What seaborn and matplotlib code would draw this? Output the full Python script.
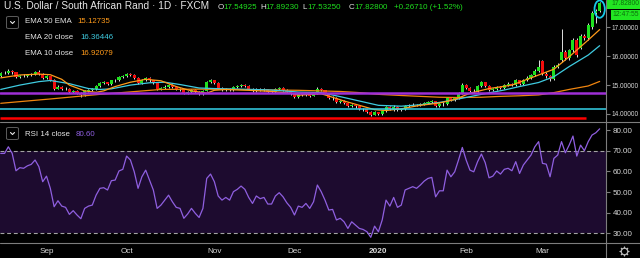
import numpy as np
import pandas as pd
import matplotlib
matplotlib.use("Agg")
import matplotlib.pyplot as plt
import seaborn as sns
from matplotlib.patches import Rectangle, Ellipse, FancyBboxPatch
from matplotlib.lines import Line2D
from matplotlib.ticker import FormatStrFormatter

# ---------------- data ----------------
start_date = "2019-08-15"
end_date = "2020-03-23"

opens = [15.30,15.42,15.42,15.50,15.44,15.28,15.32,15.31,15.35,15.38,
 15.45,15.38,15.25,15.30,15.18,14.88,14.95,14.88,14.86,14.75,
 14.80,14.72,14.66,14.80,14.84,14.86,14.98,15.08,15.09,15.05,
 15.16,15.17,15.28,15.30,15.38,15.34,15.24,15.08,15.18,15.24,
 15.16,15.08,14.86,14.90,14.95,15.00,14.93,14.86,14.85,14.72,
 14.77,14.83,14.76,14.70,14.80,15.10,15.16,15.08,14.90,14.84,
 14.87,14.84,14.94,14.97,15.01,14.96,14.86,14.78,14.86,14.83,
 14.85,14.77,14.77,14.86,14.90,14.84,14.76,14.70,14.58,14.68,
 14.66,14.71,14.64,14.73,14.86,14.82,14.72,14.55,14.56,14.42,
 14.45,14.38,14.28,14.32,14.26,14.18,14.16,14.08,13.98,14.06,
 14.00,14.10,14.24,14.18,14.24,14.14,14.16,14.28,14.30,14.32,
 14.30,14.34,14.39,14.42,14.44,14.28,14.34,14.34,14.55,14.48,
 14.55,14.72,15.02,14.90,14.80,14.79,14.97,15.10,14.98,14.83,
 14.86,14.93,14.90,15.00,15.04,15.01,15.16,15.04,15.18,15.26,
 15.34,15.50,15.84,15.39,15.30,15.22,15.62,15.87,16.16,15.93,
 16.21,16.56,16.30,16.70,16.62,17.02,17.48,17.549]

closes = [15.42,15.42,15.50,15.44,15.28,15.32,15.31,15.35,15.38,15.45,
 15.38,15.25,15.30,15.18,14.88,14.95,14.88,14.86,14.75,14.80,
 14.72,14.66,14.80,14.84,14.86,14.98,15.08,15.09,15.05,15.16,
 15.17,15.28,15.30,15.38,15.34,15.24,15.08,15.18,15.24,15.16,
 15.08,14.86,14.90,14.95,15.00,14.93,14.86,14.85,14.72,14.77,
 14.83,14.76,14.70,14.80,15.10,15.16,15.08,14.90,14.84,14.87,
 14.84,14.94,14.97,15.01,14.96,14.86,14.78,14.86,14.83,14.85,
 14.77,14.77,14.86,14.90,14.84,14.76,14.70,14.58,14.68,14.66,
 14.71,14.64,14.73,14.86,14.82,14.72,14.55,14.56,14.42,14.45,
 14.38,14.28,14.32,14.26,14.18,14.16,14.08,13.98,14.06,14.00,
 14.10,14.24,14.18,14.24,14.14,14.16,14.28,14.30,14.32,14.30,
 14.34,14.39,14.42,14.44,14.28,14.34,14.34,14.55,14.48,14.55,
 14.72,15.02,14.90,14.80,14.79,14.97,15.10,14.98,14.83,14.86,
 14.93,14.90,15.00,15.04,15.01,15.16,15.04,15.18,15.26,15.34,
 15.50,15.64,15.39,15.30,15.22,15.62,15.70,16.16,15.93,16.21,
 16.56,16.04,16.70,16.62,17.08,17.48,17.56,17.828]

highs = [15.47,15.48,15.55,15.53,15.46,15.36,15.37,15.40,15.43,15.50,
 15.52,15.41,15.34,15.33,15.20,14.99,14.97,14.92,14.89,14.84,
 14.83,14.75,14.83,14.88,14.91,15.02,15.12,15.14,15.12,15.19,
 15.22,15.32,15.35,15.42,15.41,15.37,15.27,15.22,15.29,15.27,
 15.19,15.10,14.95,15.00,15.04,15.03,14.96,14.91,14.88,14.81,
 14.87,14.86,14.79,14.84,15.14,15.22,15.19,15.10,14.93,14.91,
 14.90,14.97,15.01,15.05,15.04,14.99,14.89,14.90,14.89,14.89,
 14.87,14.82,14.90,14.94,14.92,14.86,14.79,14.72,14.72,14.71,
 14.75,14.74,14.77,14.93,14.90,14.84,14.74,14.61,14.58,14.50,
 14.48,14.40,14.36,14.35,14.28,14.22,14.19,14.10,14.09,14.08,
 14.14,14.28,14.27,14.32,14.26,14.21,14.32,14.36,14.37,14.36,
 14.39,14.43,14.46,14.49,14.46,14.38,14.40,14.59,14.58,14.60,
 14.76,15.06,15.05,14.93,14.86,15.01,15.14,15.12,15.01,14.90,
 14.97,14.96,15.04,15.09,15.08,15.20,15.18,15.22,15.30,15.39,
 15.55,15.88,15.88,15.44,15.36,15.68,15.76,16.94,16.20,16.26,
 16.62,16.62,16.76,16.78,17.14,17.55,17.64,17.892]

lows = [15.27,15.37,15.40,15.40,15.24,15.25,15.27,15.28,15.32,15.35,
 15.35,15.22,15.21,15.15,14.84,14.85,14.84,14.82,14.72,14.71,
 14.68,14.58,14.64,14.77,14.80,14.84,14.95,15.03,15.01,15.02,
 15.12,15.14,15.24,15.27,15.30,15.20,15.05,15.05,15.15,15.12,
 15.04,14.82,14.82,14.86,14.91,14.89,14.82,14.80,14.68,14.69,
 14.74,14.72,14.66,14.67,14.78,15.06,15.04,14.86,14.80,14.81,
 14.80,14.81,14.90,14.93,14.92,14.83,14.75,14.75,14.79,14.79,
 14.73,14.72,14.74,14.83,14.80,14.72,14.66,14.54,14.55,14.62,
 14.62,14.60,14.61,14.70,14.78,14.68,14.51,14.50,14.38,14.38,
 14.34,14.24,14.24,14.22,14.14,14.12,14.04,13.94,13.95,13.96,
 13.97,14.07,14.14,14.12,14.10,14.10,14.13,14.25,14.26,14.26,
 14.27,14.31,14.35,14.38,14.24,14.25,14.29,14.31,14.44,14.45,
 14.52,14.70,14.86,14.76,14.74,14.76,14.94,14.94,14.79,14.79,
 14.82,14.86,14.87,14.97,14.97,14.98,15.00,15.01,15.14,15.22,
 15.30,15.46,15.34,15.24,15.15,15.18,15.58,15.80,15.86,15.86,
 16.16,15.98,16.24,16.55,16.56,16.95,17.15,17.5325]

rsi = [68.7,68.7,71.9,68.7,60.3,61.8,61.5,62.7,63.4,65.5,
 62.3,55.0,57.7,51.8,42.9,45.8,43.2,42.6,39.2,41.0,
 38.9,37.1,42.1,43.2,43.7,48.5,51.8,52.1,51.0,55.5,
 55.8,60.2,61.0,67.4,65.5,59.8,51.8,57.4,60.6,55.8,
 51.0,42.1,43.7,46.1,48.5,45.3,42.6,42.1,37.3,39.4,
 42.1,39.7,37.7,42.1,56.6,58.7,55.0,48.1,46.1,47.4,
 46.1,50.2,51.3,52.9,51.3,47.4,44.5,48.1,46.8,47.4,
 44.2,44.2,48.1,49.7,47.7,44.8,42.6,38.9,43.2,42.6,
 44.5,42.1,45.3,53.4,50.2,46.1,41.3,41.6,36.5,37.3,
 35.6,32.4,35.6,34.0,32.4,31.9,30.8,28.1,33.5,30.8,
 36.5,46.1,43.2,47.4,42.6,43.7,51.0,51.8,52.6,51.8,
 53.4,55.3,56.6,57.1,47.7,50.6,50.6,60.6,57.4,59.8,
 65.5,71.6,65.5,60.6,59.8,64.7,68.4,64.2,56.9,57.7,
 60.2,58.7,61.0,61.5,60.3,64.7,59.0,63.1,65.5,67.9,
 71.9,74.4,63.9,63.5,57.4,66.3,67.9,74.4,69.0,72.7,
 77.1,67.4,72.7,70.0,74.4,77.6,78.7,80.6]

ema10_bar = [0,5,10,13,16,18,22,25,27,30,34,38,42,46,50,54,56,59,65,71,
             76,78,84,86,90,94,98,101,105,110,115,119,123,128,134,137,141,145,149,154,157]
ema10_val = [15.25,15.35,15.38,15.36,15.20,15.00,14.80,14.75,14.80,14.95,
             15.10,15.20,15.15,14.95,14.80,14.72,14.82,14.85,14.82,14.78,
             14.72,14.65,14.70,14.62,14.45,14.30,14.15,14.12,14.18,14.30,
             14.38,14.50,14.72,14.88,15.00,15.15,15.35,15.55,15.98,16.56,16.921]
ema20_bar = [0,5,10,13,18,23,26,29,34,39,43,47,52,56,63,71,78,84,89,94,
             99,105,110,115,120,126,132,136,141,145,149,154,157]
ema20_val = [14.85,15.00,15.12,15.16,15.05,14.88,14.85,14.87,15.00,15.08,
             15.10,15.02,14.90,14.88,14.86,14.83,14.76,14.74,14.60,14.45,
             14.30,14.27,14.32,14.40,14.52,14.68,14.83,14.95,15.09,15.29,
             15.64,16.04,16.364]
ema50_bar = [0,13,26,42,52,65,78,89,94,99,105,110,115,120,126,131,136,141,145,149,154,157]
ema50_val = [14.37,14.52,14.68,14.85,14.86,14.84,14.82,14.78,14.74,14.68,
             14.64,14.61,14.58,14.57,14.58,14.61,14.63,14.66,14.74,14.85,14.97,15.127]

level_purple = 14.74
level_cyan = 14.17
level_red = 13.87
red_end_bar = 153.5

price_ticks = [14, 15, 16, 17]
rsi_ticks = [30, 40, 50, 60, 70, 80]
rsi_bands = [30, 70]

title = "U.S. Dollar / South African Rand \u00b7 1D \u00b7 FXCM"
ohlc_letters = ["O", "H", "L", "C"]
ohlc_values = ["17.54925", "17.89230", "17.53250", "17.82800"]
change_text = "+0.26710 (+1.52%)"
legend_names = ["EMA 50 EMA", "EMA 20 close", "EMA 10 close"]
legend_values = ["15.12735", "16.36446", "16.92079"]
rsi_name = "RSI 14 close"
rsi_value = "80.60"
last_price_label = "17.82800"
countdown_label = "12:47:55"

# ---------------- style ----------------
sns.set_style("dark", {"axes.facecolor": "black", "figure.facecolor": "black"})
plt.rcParams["font.family"] = ["Liberation Sans", "DejaVu Sans"]

W, H = 640, 258
GREEN = "#1fe01f"
RED = "#f20d0d"
WICK = "#e0e0e0"
ORANGE = "#ff9a1a"
CYAN = "#3fcbe0"
PURPLE_LINE = "#9e2fd6"
RSI_COL = "#8f5fe0"
GRID = "#7d7d7d"
TXT = "#e6e6e6"
AX_TXT = "#d8d8d8"

fig = plt.figure(figsize=(6.4, 2.58), dpi=100, facecolor="black")

def fx(px):
    return px / W

def fy(py):
    return 1 - py / H

ax1 = fig.add_axes([0, fy(122), 606 / W, 122 / H])
ax2 = fig.add_axes([0, fy(243), 606 / W, 121 / H])

dates = pd.bdate_range(start_date, end_date)
n = len(closes)
idx = np.arange(n)
xlim = (-0.19, 158.66)

for ax in (ax1, ax2):
    ax.set_facecolor("black")
    for s in ax.spines.values():
        s.set_visible(False)
    ax.set_xlim(*xlim)
    ax.grid(False)

# ---- candles ----
o = np.array(opens); c = np.array(closes)
h = np.array(highs); l = np.array(lows)
up = c >= o
cols = np.where(up, GREEN, RED)
heights = np.where(np.abs(c - o) < 0.015, 0.015, np.abs(c - o))
bottoms = np.minimum(o, c)
ax1.vlines(idx, l, h, colors=WICK, lw=0.7, zorder=2)
ax1.bar(idx, heights, bottom=bottoms, width=0.8, color=cols, linewidth=0, zorder=3)

# ---- EMAs ----
df10 = pd.DataFrame({"bar": ema10_bar, "v": ema10_val})
df20 = pd.DataFrame({"bar": ema20_bar, "v": ema20_val})
df50 = pd.DataFrame({"bar": ema50_bar, "v": ema50_val})
sns.lineplot(data=df50, x="bar", y="v", ax=ax1, color="#f0850f", lw=0.9, zorder=4, legend=False)
sns.lineplot(data=df20, x="bar", y="v", ax=ax1, color=CYAN, lw=0.9, zorder=4, legend=False)
sns.lineplot(data=df10, x="bar", y="v", ax=ax1, color=ORANGE, lw=0.9, zorder=4, legend=False)

# ---- drawn levels ----
ax1.axhline(level_purple, color=PURPLE_LINE, lw=1.8, zorder=5)
ax1.axhline(level_cyan, color="#35d3ea", lw=1.1, zorder=5)
ax1.hlines(level_red, xlim[0], red_end_bar, color="#ff0000", lw=1.8, zorder=5)
ax1.add_patch(Ellipse((157, 17.63), width=2.7, height=0.6, fill=False,
                      ec="#18c8e8", lw=1.3, zorder=6))

ax1.set_ylim(13.723, 17.945)
ax1.set_xlabel(""); ax1.set_ylabel("")
ax1.set_xticks([])
ax1.yaxis.tick_right()
ax1.set_yticks(price_ticks)
ax1.yaxis.set_major_formatter(FormatStrFormatter("%.5f"))
ax1.tick_params(axis="y", colors=GRID, labelcolor=AX_TXT, labelsize=4.7,
                length=3, width=0.8, pad=1.2)

# ---- RSI ----
ax2.axhspan(rsi_bands[0], rsi_bands[1], color="#1d0b2f", lw=0, zorder=1)
for lvl in rsi_bands:
    ax2.axhline(lvl, color="#a3a3a3", lw=0.8, ls=(0, (3.5, 2.5)), zorder=2)
dfr = pd.DataFrame({"bar": idx, "rsi": rsi})
sns.lineplot(data=dfr, x="bar", y="rsi", ax=ax2, color=RSI_COL, lw=0.9, zorder=3, legend=False)
ax2.set_ylim(25.35, 83.9)
ax2.set_xlabel(""); ax2.set_ylabel("")
ax2.yaxis.tick_right()
ax2.set_yticks(rsi_ticks)
ax2.yaxis.set_major_formatter(FormatStrFormatter("%.2f"))
ax2.tick_params(axis="y", colors=GRID, labelcolor=AX_TXT, labelsize=5.8,
                length=3, width=0.8, pad=2)

# month ticks
tick_pos, tick_lab = [], []
for i in range(1, n):
    if dates[i].month != dates[i - 1].month:
        tick_pos.append(i)
        tick_lab.append(str(dates[i].year) if dates[i].month == 1 else dates[i].strftime("%b"))
ax2.set_xticks(tick_pos)
ax2.set_xticklabels(tick_lab)
ax2.tick_params(axis="x", length=0, labelcolor=AX_TXT, labelsize=5.9, pad=3.6)
for t in ax2.get_xticklabels():
    if t.get_text() == "2020":
        t.set_fontweight("bold")

# ---- separators ----
for py in (122, 243):
    fig.add_artist(Line2D([0, 1], [fy(py), fy(py)], color=GRID, lw=0.8, transform=fig.transFigure))
fig.add_artist(Line2D([fx(606), fx(606)], [0, 1], color=GRID, lw=0.8, transform=fig.transFigure))

# ---- header text ----
def T(px, py, s, **kw):
    return fig.text(fx(px), fy(py), s, **kw)

T(4, 9.3, title, color=TXT, fontsize=7.3, va="baseline")
ox = [218, 260, 302, 349]
for L, V, x0 in zip(ohlc_letters, ohlc_values, ox):
    T(x0, 9.0, L, color=TXT, fontsize=5.8, va="baseline")
    T(x0 + 5.3, 9.0, V, color=GREEN, fontsize=5.8, va="baseline")
T(394, 9.0, change_text, color=GREEN, fontsize=5.8, va="baseline")

# legend rows
def chevron_box(top):
    fig.add_artist(FancyBboxPatch((fx(6.5), fy(top + 12.5)), 12 / W, 12 / H,
                                  boxstyle="round,pad=0,rounding_size=0.004",
                                  ec="#5c5c5c", fc="black", lw=0.7,
                                  transform=fig.transFigure))
    cy = top + 6.5
    fig.add_artist(Line2D([fx(10.5), fx(12.5), fx(14.5)], [fy(cy - 1), fy(cy + 1), fy(cy - 1)],
                          color=TXT, lw=0.8, transform=fig.transFigure))

chevron_box(16)
leg_y = [23.0, 39.0, 55.0]
leg_cols = [ORANGE, CYAN, ORANGE]
leg_vx = [77, 80, 80]
for name, val, y, colr, vx in zip(legend_names, legend_values, leg_y, leg_cols, leg_vx):
    T(25, y, name, color=TXT, fontsize=5.7, va="baseline")
    T(vx, y, val, color=colr, fontsize=5.7, va="baseline")

chevron_box(127)
T(25, 136.0, rsi_name, color=TXT, fontsize=5.7, va="baseline")
T(76, 136.0, rsi_value, color=RSI_COL, fontsize=5.7, va="baseline")

# right-side price boxes
fig.add_artist(Rectangle((fx(606.5), fy(8.5)), 34 / W, 11 / H, color="#22e622",
                         transform=fig.transFigure, lw=0))
T(611.5, 3.6, last_price_label, color="#0d6e0d", fontsize=4.9, va="center")
fig.add_artist(Rectangle((fx(611), fy(19.5)), 29 / W, 10 / H, color="#22e622",
                         transform=fig.transFigure, lw=0))
T(612, 14.6, countdown_label, color="#0d6e0d", fontsize=4.9, va="center")

# settings gear icon
gx, gy = fx(624), fy(251)
fig.add_artist(Line2D([gx], [gy], marker=(8, 1, 0), ms=7, mfc="none", mec="#bdbdbd",
                      mew=0.7, transform=fig.transFigure))
fig.add_artist(Line2D([gx], [gy], marker="o", ms=4.5, mfc="black", mec="#bdbdbd",
                      mew=0.7, transform=fig.transFigure))

fig.savefig("out.png", dpi=100, facecolor="black")
